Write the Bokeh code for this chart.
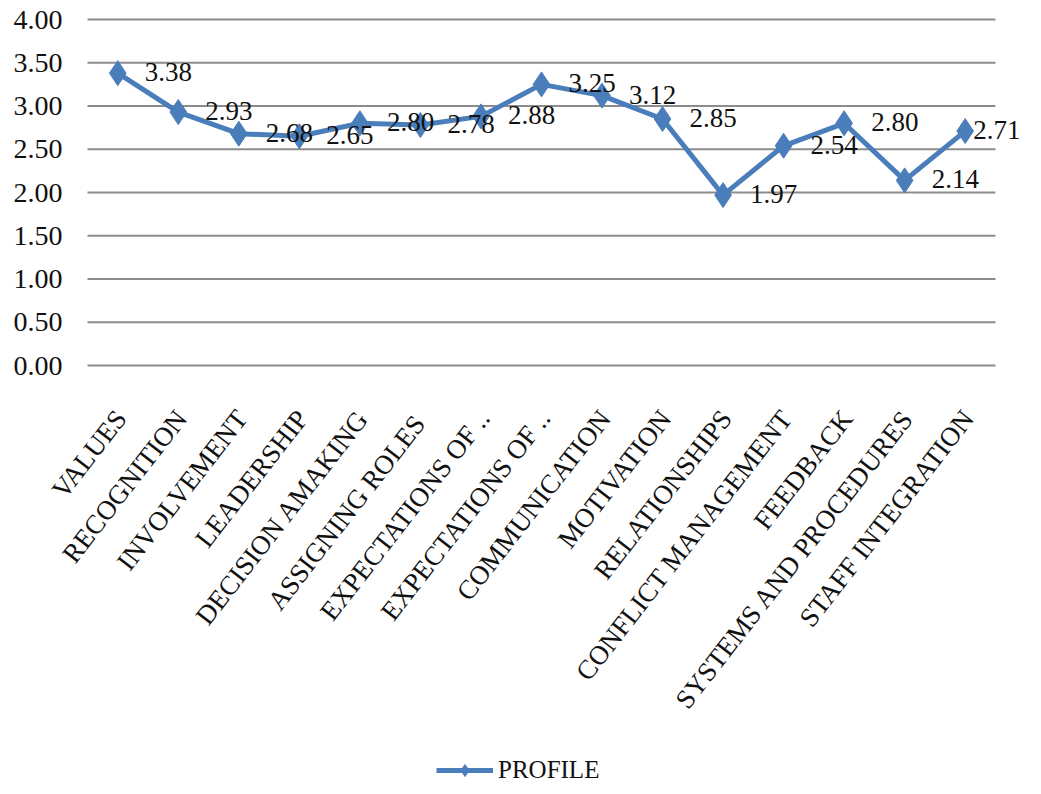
from bokeh.plotting import figure
from bokeh.models import Range1d, Legend, LegendItem, ColumnDataSource
from bokeh.embed import file_html
from bokeh.resources import INLINE
from bokeh.core.properties import value

categories = ["VALUES", "RECOGNITION", "INVOLVEMENT", "LEADERSHIP", "DECISION AMAKING",
              "ASSIGNING  ROLES", "EXPECTATIONS OF ..", "EXPECTATIONS OF ..", "COMMUNICATION",
              "MOTIVATION", "RELATIONSHIPS", "CONFLICT MANAGEMENT", "FEEDBACK",
              "SYSTEMS AND PROCEDURES", "STAFF INTEGRATION"]
profile = [3.38, 2.93, 2.68, 2.65, 2.80, 2.78, 2.88, 3.25, 3.12, 2.85, 1.97, 2.54, 2.80, 2.14, 2.71]
y_ticks = [0.0, 0.5, 1.0, 1.5, 2.0, 2.5, 3.0, 3.5, 4.0]
y_tick_labels = ["0.00", "0.50", "1.00", "1.50", "2.00", "2.50", "3.00", "3.50", "4.00"]

n = len(categories)
xs = list(range(n))
# data labels sit to the right of their point; the last one is pulled in to stay on the chart
label_dx = [27] * (n - 1) + [8]
src = ColumnDataSource(dict(x=xs, y=profile, lab=["%.2f" % v for v in profile], dx=label_dx))
cat_src = ColumnDataSource(dict(x=xs, y=[0.0] * n, cat=categories))
grid_src = ColumnDataSource(dict(y=y_ticks, x0=[-0.5] * len(y_ticks),
                                 x1=[n - 0.5] * len(y_ticks), lab=y_tick_labels))

FONT = "Liberation Serif"
BLUE = "#4A7EBB"
INK = "#111111"

# geometry (pixels) of the whole canvas, used as the plotting frame
W, H = 1025, 786
GRID_LEFT = 87     # pixel where the value grid starts
PX_X = 60.53       # pixels per category
PX_Y = 86.5        # pixels per 1.0 on the value axis
TOP_PAD = 19       # pixels above the 4.00 line
x_lo = -0.5 - GRID_LEFT / PX_X
x_hi = x_lo + W / PX_X
y_hi = 4 + TOP_PAD / PX_Y
y_lo = y_hi - H / PX_Y

p = figure(width=W, height=H, output_backend="svg", toolbar_location=None,
           x_range=Range1d(x_lo, x_hi), y_range=Range1d(y_lo, y_hi),
           min_border=0, x_axis_location=None, y_axis_location=None)
p.outline_line_color = None
p.background_fill_color = "white"
p.border_fill_color = "white"
p.xgrid.visible = False
p.ygrid.visible = False

# horizontal value gridlines and their tick labels
p.segment(x0="x0", y0="y", x1="x1", y1="y", source=grid_src,
          line_color="#8C8C8C", line_width=1.8)
p.text("x0", "y", text="lab", source=grid_src, x_offset=-25, y_offset=0,
       text_align="right", text_baseline="middle", text_font=value(FONT),
       text_font_size="28px", text_color=INK)

# category labels, rotated, hanging below the zero line
p.text("x", "y", text="cat", source=cat_src, angle=0.91, x_offset=3, y_offset=48,
       text_align="right", text_baseline="middle", text_font=value(FONT),
       text_font_size="27px", text_color=INK)

ln = p.line("x", "y", source=src, line_color=BLUE, line_width=5)
mk = p.scatter("x", "y", source=src, marker="diamond", size=25, fill_color=BLUE,
               line_color=BLUE)
p.text("x", "y", text="lab", source=src, x_offset="dx", y_offset=-1, text_align="left",
       text_baseline="middle", text_font=value(FONT), text_font_size="27px",
       text_color=INK)

legend = Legend(items=[LegendItem(label="PROFILE", renderers=[ln, mk])],
                orientation="horizontal", location=(436, 1),
                label_text_font=FONT, label_text_font_size="25px",
                label_text_color=INK, glyph_width=57, glyph_height=30,
                border_line_color=None, background_fill_alpha=0, margin=0, padding=0,
                label_standoff=5)
p.add_layout(legend, "center")

open("out.html", "w").write(file_html(p, INLINE))
